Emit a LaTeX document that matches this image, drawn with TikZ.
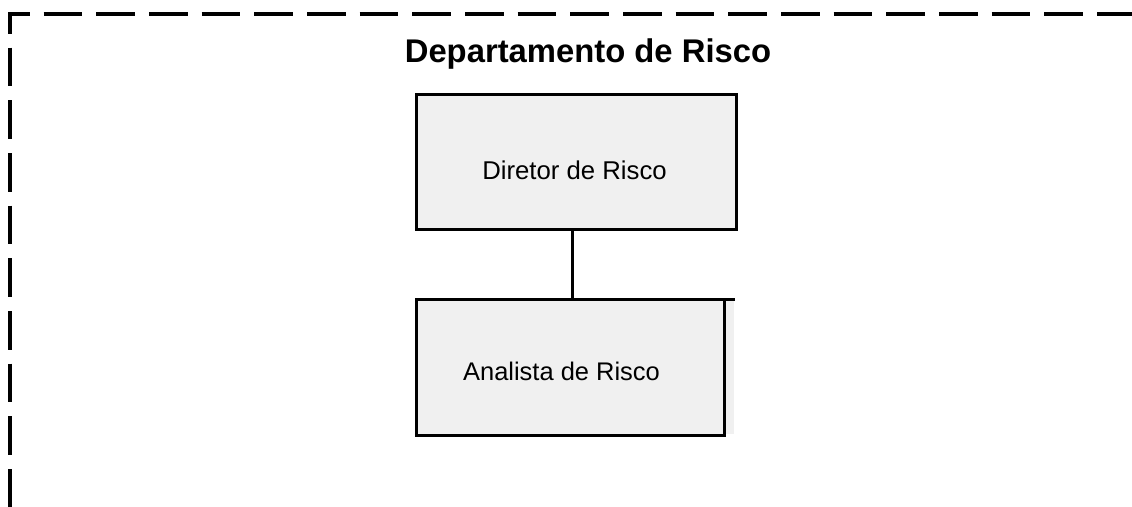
\documentclass[tikz,border=0pt]{standalone}
\usepackage{fontspec}
\setmainfont{Liberation Sans}
\definecolor{boxgray}{HTML}{F0F0F0}
\begin{document}
\begin{tikzpicture}[x=0.75pt,y=-0.75pt,
  frameline/.style={line width=3pt, dash pattern=on 28.9pt off 10.6pt, dash phase=12.75pt},
  boxline/.style={line width=2.25pt, line join=miter},
  boxfill/.style={fill=boxgray, draw=none, inner sep=0pt, anchor=north west},
  lbl/.style={inner sep=0pt, font=\fontsize{19.3pt}{22pt}\selectfont},
  title/.style={inner sep=0pt, font=\fontsize{24.6pt}{30pt}\selectfont\bfseries}]
\useasboundingbox (0,0) rectangle (1132,507);
% frame
\draw[frameline] (8,14) -- (1132,14);
\draw[frameline] (10,12) -- (10,507);
% title
\node[title] (t) at (588,54) {Departamento de Risco};
% Director box
\node[boxfill, draw=black, boxline, minimum width=240pt, minimum height=101.25pt] (d) at (415,93) {};
\node[lbl] (dt) at (574.5,170) {Diretor de Risco};
% Analyst box
\node[boxfill, minimum width=238.5pt, minimum height=101.25pt] (a) at (416,299) {};
\draw[boxline] (a.north east) -- (a.north west) -- ([yshift=-0.75pt]a.south west) -- ([xshift=-7.5pt,yshift=-0.75pt]a.south east) -- ([xshift=-7.5pt]a.north east);
\node[lbl, font=\fontsize{19.1pt}{22pt}\selectfont] (at) at (561.5,371) {Analista de Risco};
% connector
\coordinate (cx) at (572,0);
\draw[boxline] (d.south -| cx) -- (a.north -| cx);
\end{tikzpicture}
\end{document}
